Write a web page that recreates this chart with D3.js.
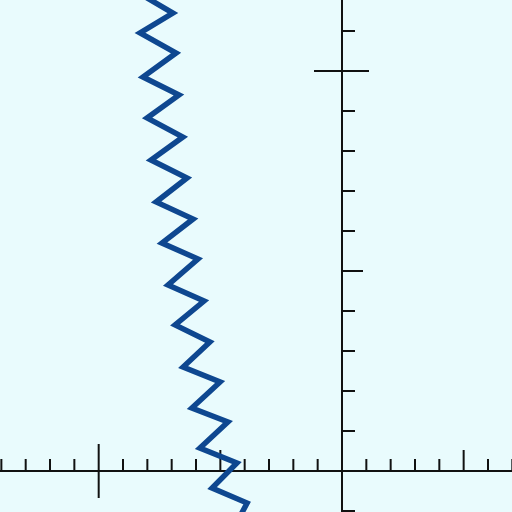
<!DOCTYPE html>
<html><head><meta charset="utf-8">
<script src="https://cdn.jsdelivr.net/npm/d3@7"></script>
<style>html,body{margin:0;padding:0;background:#e9fbfd;}svg{display:block;}</style>
</head><body>
<script>
// zigzag path points (data units)
const xs = [-8.43,-6.95,-8.30,-6.82,-8.18,-6.70,-8.01,-6.54,-7.85,-6.37,-7.64,-6.12,-7.40,-5.92,-7.15,-5.67,-6.86,-5.43,-6.53,-5.01,-6.17,-4.69,-5.84,-4.32,-5.34,-3.90,-4.27];
const ys = [11.975,11.45,10.95,10.45,9.85,9.40,8.825,8.35,7.775,7.325,6.725,6.30,5.70,5.30,4.65,4.25,3.65,3.225,2.60,2.225,1.575,1.225,0.575,0.20,-0.425,-0.80,-1.225];
const xTicks = [-14,-13,-12,-11,-10,-9,-8,-7,-6,-5,-4,-3,-2,-1,1,2,3,4,5,6,7];
const yTicks = [-1,1,2,3,4,5,6,7,8,9,10,11];

const W = 512, H = 512;
const x = d3.scaleLinear().domain([-14.056, 6.987]).range([0, W]);
const y = d3.scaleLinear().domain([-1.025, 11.775]).range([H, 0]);

const svg = d3.select("body").append("svg").attr("width", W).attr("height", H);
svg.append("rect").attr("width", W).attr("height", H).attr("fill", "#e9fbfd");

const ax = svg.append("g").attr("stroke", "#111").attr("stroke-width", 2).attr("fill", "none");
ax.append("line").attr("x1", 0).attr("x2", W).attr("y1", y(0)).attr("y2", y(0));
ax.append("line").attr("x1", x(0)).attr("x2", x(0)).attr("y1", 0).attr("y2", H);

xTicks.forEach(t => {
  const px = x(t);
  if (Math.abs(t) % 10 === 0) {
    ax.append("line").attr("x1", px).attr("x2", px).attr("y1", y(0) - 27).attr("y2", y(0) + 27);
  } else {
    const len = Math.abs(t) % 5 === 0 ? 21 : 12;
    ax.append("line").attr("x1", px).attr("x2", px).attr("y1", y(0) - len).attr("y2", y(0));
  }
});
yTicks.forEach(t => {
  const py = y(t);
  if (Math.abs(t) % 10 === 0) {
    ax.append("line").attr("x1", x(0) - 28).attr("x2", x(0) + 27).attr("y1", py).attr("y2", py);
  } else {
    const len = Math.abs(t) % 5 === 0 ? 21 : 13;
    ax.append("line").attr("x1", x(0)).attr("x2", x(0) + len).attr("y1", py).attr("y2", py);
  }
});

const pts = xs.map((v, i) => [v, ys[i]]);
svg.append("path").datum(pts)
  .attr("d", d3.line().x(d => x(d[0])).y(d => y(d[1])))
  .attr("fill", "none").attr("stroke", "#0e4790").attr("stroke-width", 5.5)
  .attr("stroke-linejoin", "miter");
</script>
</body></html>
